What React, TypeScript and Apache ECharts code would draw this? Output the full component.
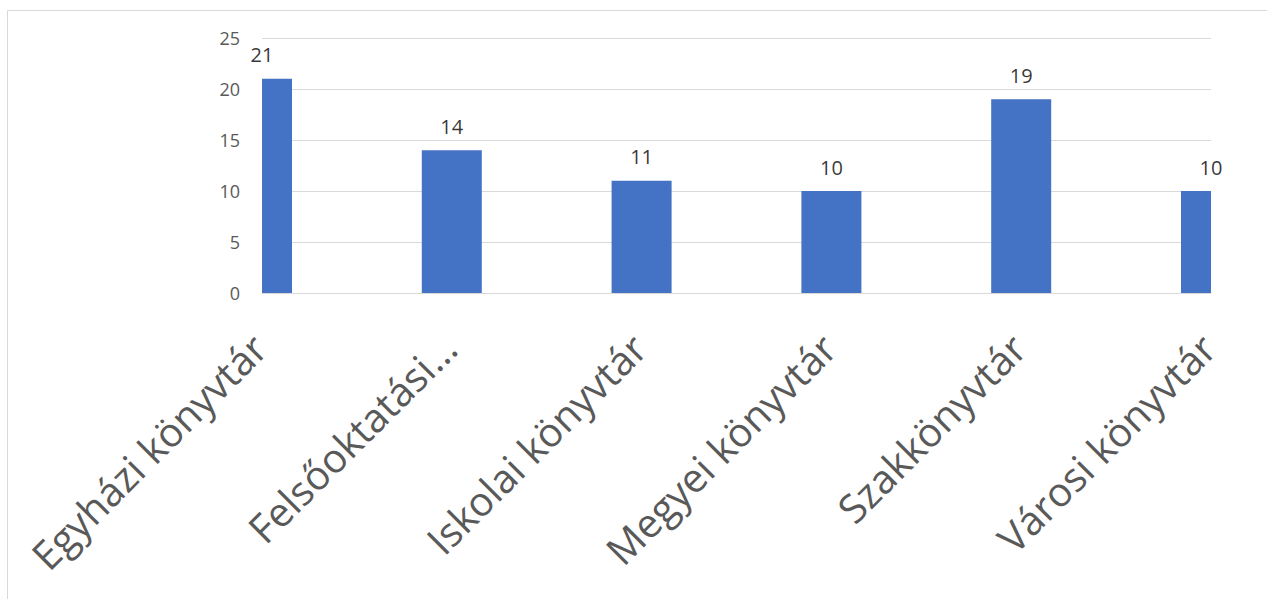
import React, { useEffect, useRef } from "react";
import * as echarts from "echarts";

const categories = [
  "Egyházi könyvtár",
  "Felsőoktatási…",
  "Iskolai könyvtár",
  "Megyei könyvtár",
  "Szakkönyvtár",
  "Városi könyvtár",
];
const values = [21, 14, 11, 10, 19, 10];
const yTicks = [0, 5, 10, 15, 20, 25];

export default function App() {
  const ref = useRef<HTMLDivElement>(null);
  useEffect(() => {
    document.body.style.margin = "0";
    const chart = echarts.init(ref.current!, null, { renderer: "svg" });
    const barW = 60;
    chart.setOption({
      animation: false,
      backgroundColor: "#ffffff",
      textStyle: { fontFamily: "Open Sans" },
      graphic: [
        {
          type: "rect",
          shape: { x: 7.5, y: 10.5, width: 1300, height: 700 },
          style: { fill: "none", stroke: "#d9d9d9", lineWidth: 1 },
          silent: true,
        },
      ],
      grid: { left: 262, right: 56, top: 38, bottom: 306, containLabel: false },
      xAxis: {
        type: "category",
        data: categories,
        boundaryGap: false,
        axisLine: { show: true, lineStyle: { color: "#d9d9d9", width: 1 } },
        axisTick: { show: false },
        splitLine: { show: false },
        axisLabel: {
          interval: 0,
          rotate: 45,
          margin: 45,
          fontSize: 40,
          padding: [0, 4, 0, 0],
          color: "#595959",
          fontFamily: "Open Sans",
        },
      },
      yAxis: {
        type: "value",
        min: yTicks[0],
        max: yTicks[yTicks.length - 1],
        interval: 5,
        axisLine: { show: false },
        axisTick: { show: false },
        splitLine: { lineStyle: { color: "#d9d9d9", width: 1 } },
        axisLabel: { fontSize: 18, color: "#595959", margin: 22, fontFamily: "Open Sans" },
      },
      series: [
        {
          type: "custom",
          data: values.map((v, i) => [i, v]),
          encode: { x: 0, y: 1 },
          renderItem: (params: any, api: any) => {
            const top = api.coord([api.value(0), api.value(1)]);
            const base = api.coord([api.value(0), 0]);
            const cs = params.coordSys;
            const shape = echarts.graphic.clipRectByRect(
              { x: top[0] - barW / 2, y: top[1], width: barW, height: base[1] - top[1] },
              { x: cs.x, y: cs.y - 100, width: cs.width, height: cs.height + 100 }
            );
            if (!shape) return null;
            return { type: "rect", shape, style: { fill: "#4472C4" } };
          },
          z: 2,
        },
        {
          type: "scatter",
          data: values.map((v, i) => [i, v]),
          symbolSize: 0,
          silent: true,
          z: 3,
          label: {
            show: true,
            position: "top",
            distance: 14,
            fontSize: 20,
            color: "#000000",
            fontFamily: "Open Sans",
            formatter: (p: any) => String(p.value[1]),
          },
        },
      ],
    });
    return () => chart.dispose();
  }, []);
  return <div ref={ref} style={{ width: 1267, height: 599 }} />;
}
